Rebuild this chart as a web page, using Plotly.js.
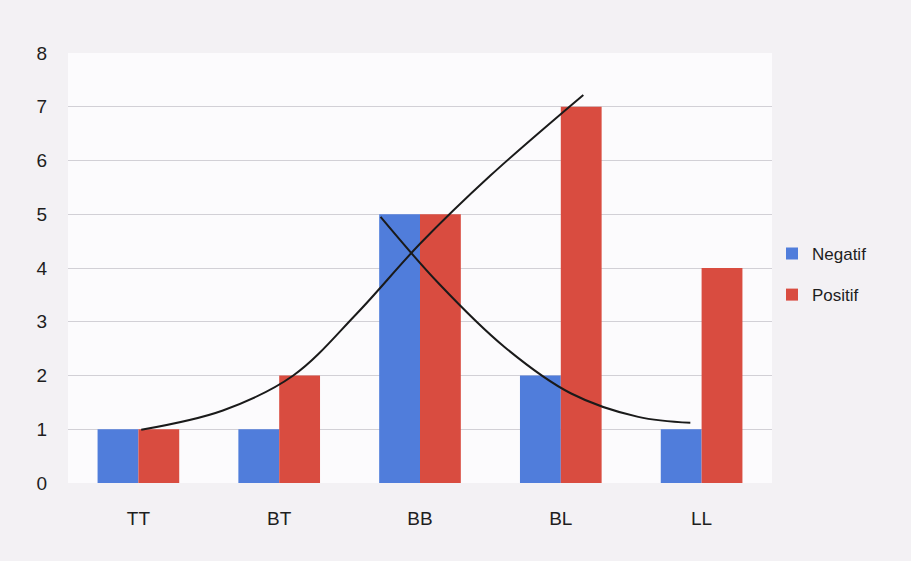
<!DOCTYPE html>
<html>
<head>
<meta charset="utf-8">
<script src="https://cdn.plot.ly/plotly-3.0.1.min.js"></script>
<style>html,body{margin:0;padding:0;background:#f3f1f4;}#chart{width:911px;height:561px;}</style>
</head>
<body>
<div id="chart"></div>
<script>
const categories = ["TT", "BT", "BB", "BL", "LL"];
const negatif = [1, 1, 5, 2, 1];
const positif = [1, 2, 5, 7, 4];
const yTicks = [0, 1, 2, 3, 4, 5, 6, 7, 8];

// hand-drawn curves, in category-index units
const risingX = [0.02, 0.6, 1.1, 1.55, 2.0, 2.5, 3.16];
const risingY = [0.99, 1.35, 2.0, 3.15, 4.45, 5.72, 7.22];
const fallingX = [1.72, 2.13, 2.60, 3.07, 3.55, 3.92];
const fallingY = [4.95, 3.72, 2.53, 1.67, 1.23, 1.12];

const traces = [
  {type: "bar", name: "Negatif", legendgroup: "neg", x: categories, y: negatif, marker: {color: "#507ddb"}},
  {type: "bar", name: "Positif", legendgroup: "pos", x: categories, y: positif, marker: {color: "#d94c40"}},
  {type: "scatter", mode: "lines", x: risingX, y: risingY, xaxis: "x2", showlegend: false,
   line: {color: "#1a1a1a", width: 2, shape: "spline", smoothing: 1}, hoverinfo: "skip"},
  {type: "scatter", mode: "lines", x: fallingX, y: fallingY, xaxis: "x2", showlegend: false,
   line: {color: "#1a1a1a", width: 2, shape: "spline", smoothing: 1}, hoverinfo: "skip"}
];

const layout = {
  width: 911, height: 561,
  margin: {l: 68, r: 139, t: 53, b: 78},
  paper_bgcolor: "#f3f1f4",
  plot_bgcolor: "#fcfbfd",
  barmode: "group",
  bargap: 0.42,
  bargroupgap: 0,
  font: {family: "Liberation Sans, Arial, sans-serif", color: "#2a2a2a", size: 18},
  xaxis: {
    type: "category", range: [-0.5, 4.5], showgrid: false, zeroline: false,
    ticks: "outside", ticklen: 18, tickcolor: "rgba(0,0,0,0)",
    tickfont: {size: 19, color: "#1e1e1e"}, showline: false
  },
  xaxis2: {overlaying: "x", range: [-0.5, 4.5], visible: false},
  yaxis: {
    range: [0, 8], tickvals: yTicks, showgrid: true, gridcolor: "#d2d0d6", gridwidth: 1,
    zeroline: false, ticks: "outside", ticklen: 16, tickcolor: "rgba(0,0,0,0)",
    tickfont: {size: 19, color: "#1e1e1e"}, showline: false
  },
  legend: {
    x: 1.0, y: 0.485, xanchor: "left", yanchor: "middle",
    bgcolor: "rgba(0,0,0,0)", font: {size: 17, color: "#1e1e1e"},
    itemwidth: 30, tracegroupgap: 16
  },
  showlegend: true
};

Plotly.newPlot("chart", traces, layout, {displayModeBar: false, staticPlot: true});
</script>
</body>
</html>
